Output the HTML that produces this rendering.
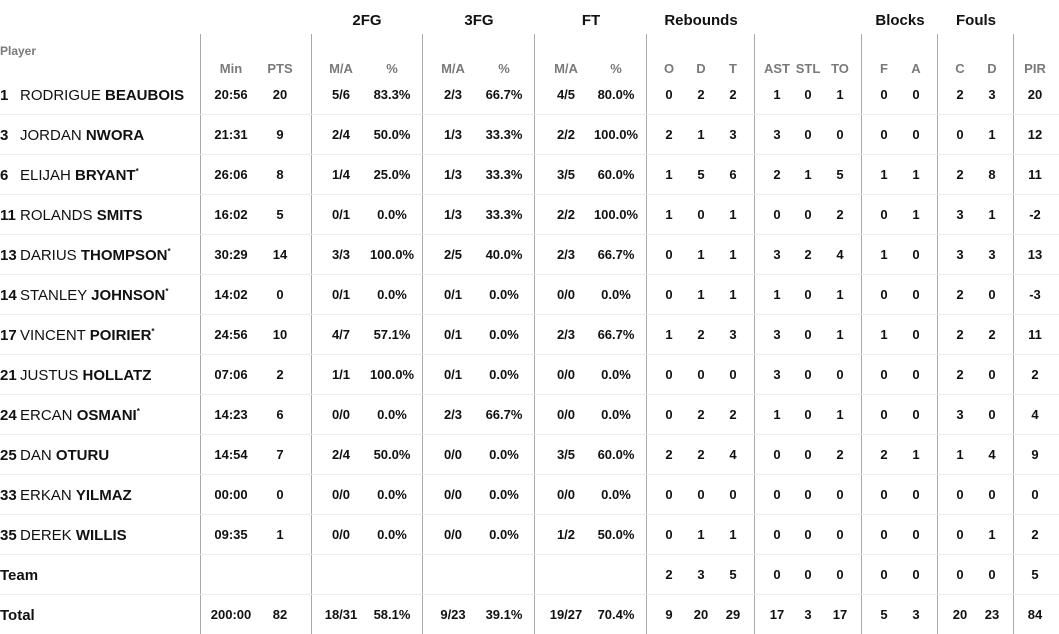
<!DOCTYPE html>
<html><head><meta charset="utf-8"><style>
body{margin:0;width:1059px;height:634px;background:#fff;overflow:hidden;position:relative;font-family:"Liberation Sans",sans-serif;color:#111}
.v{position:absolute;top:34px;bottom:0;width:1px;background:#a8a8a8}
.h{position:absolute;left:0;right:0;height:1px;background:#ececec}
.g{position:absolute;top:12px;font-weight:bold;font-size:15px;transform:translateX(-50%);white-space:nowrap}
.r{position:absolute;left:0;right:0;height:20px}
.r span{position:absolute;width:70px;margin-left:-35px;text-align:center;font-weight:bold;font-size:13px;line-height:20px;top:1px}
.hd span{color:#7a7a7a;font-size:13px}
.n{position:absolute;left:0;top:2px;height:20px;font-size:15px;line-height:20px;white-space:nowrap}
.n i{font-style:normal;display:inline-block;width:20px}
.n b sup{font-size:8px;line-height:0;vertical-align:0;position:relative;top:-6px}
</style></head><body>
<div class="v" style="left:200px"></div><div class="v" style="left:311px"></div><div class="v" style="left:422px"></div><div class="v" style="left:534px"></div><div class="v" style="left:646px"></div><div class="v" style="left:754px"></div><div class="v" style="left:861px"></div><div class="v" style="left:937px"></div><div class="v" style="left:1013px"></div>
<div class="h" style="top:114px"></div><div class="h" style="top:154px"></div><div class="h" style="top:194px"></div><div class="h" style="top:234px"></div><div class="h" style="top:274px"></div><div class="h" style="top:314px"></div><div class="h" style="top:354px"></div><div class="h" style="top:394px"></div><div class="h" style="top:434px"></div><div class="h" style="top:474px"></div><div class="h" style="top:514px"></div><div class="h" style="top:554px"></div><div class="h" style="top:594px"></div>
<div class="g" style="left:367px">2FG</div><div class="g" style="left:479px">3FG</div><div class="g" style="left:591px">FT</div><div class="g" style="left:701px">Rebounds</div><div class="g" style="left:900px">Blocks</div><div class="g" style="left:976px">Fouls</div>
<div style="position:absolute;left:0;top:44px;font-size:12px;font-weight:bold;color:#7a7a7a">Player</div>
<div class="r hd" style="top:58px"><span style="left:231px">Min</span><span style="left:280px">PTS</span><span style="left:341px">M/A</span><span style="left:392px">%</span><span style="left:453px">M/A</span><span style="left:504px">%</span><span style="left:566px">M/A</span><span style="left:616px">%</span><span style="left:669px">O</span><span style="left:701px">D</span><span style="left:733px">T</span><span style="left:777px">AST</span><span style="left:808px">STL</span><span style="left:840px">TO</span><span style="left:884px">F</span><span style="left:916px">A</span><span style="left:960px">C</span><span style="left:992px">D</span><span style="left:1035px">PIR</span><span style="left:1072px">-</span></div>

<div class="r" style="top:84px"><div class="n"><i><b>1</b></i>RODRIGUE <b>BEAUBOIS</b></div><span style="left:231px">20:56</span><span style="left:280px">20</span><span style="left:341px">5/6</span><span style="left:392px">83.3%</span><span style="left:453px">2/3</span><span style="left:504px">66.7%</span><span style="left:566px">4/5</span><span style="left:616px">80.0%</span><span style="left:669px">0</span><span style="left:701px">2</span><span style="left:733px">2</span><span style="left:777px">1</span><span style="left:808px">0</span><span style="left:840px">1</span><span style="left:884px">0</span><span style="left:916px">0</span><span style="left:960px">2</span><span style="left:992px">3</span><span style="left:1035px">20</span></div>
<div class="r" style="top:124px"><div class="n"><i><b>3</b></i>JORDAN <b>NWORA</b></div><span style="left:231px">21:31</span><span style="left:280px">9</span><span style="left:341px">2/4</span><span style="left:392px">50.0%</span><span style="left:453px">1/3</span><span style="left:504px">33.3%</span><span style="left:566px">2/2</span><span style="left:616px">100.0%</span><span style="left:669px">2</span><span style="left:701px">1</span><span style="left:733px">3</span><span style="left:777px">3</span><span style="left:808px">0</span><span style="left:840px">0</span><span style="left:884px">0</span><span style="left:916px">0</span><span style="left:960px">0</span><span style="left:992px">1</span><span style="left:1035px">12</span></div>
<div class="r" style="top:164px"><div class="n"><i><b>6</b></i>ELIJAH <b>BRYANT<sup>*</sup></b></div><span style="left:231px">26:06</span><span style="left:280px">8</span><span style="left:341px">1/4</span><span style="left:392px">25.0%</span><span style="left:453px">1/3</span><span style="left:504px">33.3%</span><span style="left:566px">3/5</span><span style="left:616px">60.0%</span><span style="left:669px">1</span><span style="left:701px">5</span><span style="left:733px">6</span><span style="left:777px">2</span><span style="left:808px">1</span><span style="left:840px">5</span><span style="left:884px">1</span><span style="left:916px">1</span><span style="left:960px">2</span><span style="left:992px">8</span><span style="left:1035px">11</span></div>
<div class="r" style="top:204px"><div class="n"><i><b>11</b></i>ROLANDS <b>SMITS</b></div><span style="left:231px">16:02</span><span style="left:280px">5</span><span style="left:341px">0/1</span><span style="left:392px">0.0%</span><span style="left:453px">1/3</span><span style="left:504px">33.3%</span><span style="left:566px">2/2</span><span style="left:616px">100.0%</span><span style="left:669px">1</span><span style="left:701px">0</span><span style="left:733px">1</span><span style="left:777px">0</span><span style="left:808px">0</span><span style="left:840px">2</span><span style="left:884px">0</span><span style="left:916px">1</span><span style="left:960px">3</span><span style="left:992px">1</span><span style="left:1035px">-2</span></div>
<div class="r" style="top:244px"><div class="n"><i><b>13</b></i>DARIUS <b>THOMPSON<sup>*</sup></b></div><span style="left:231px">30:29</span><span style="left:280px">14</span><span style="left:341px">3/3</span><span style="left:392px">100.0%</span><span style="left:453px">2/5</span><span style="left:504px">40.0%</span><span style="left:566px">2/3</span><span style="left:616px">66.7%</span><span style="left:669px">0</span><span style="left:701px">1</span><span style="left:733px">1</span><span style="left:777px">3</span><span style="left:808px">2</span><span style="left:840px">4</span><span style="left:884px">1</span><span style="left:916px">0</span><span style="left:960px">3</span><span style="left:992px">3</span><span style="left:1035px">13</span></div>
<div class="r" style="top:284px"><div class="n"><i><b>14</b></i>STANLEY <b>JOHNSON<sup>*</sup></b></div><span style="left:231px">14:02</span><span style="left:280px">0</span><span style="left:341px">0/1</span><span style="left:392px">0.0%</span><span style="left:453px">0/1</span><span style="left:504px">0.0%</span><span style="left:566px">0/0</span><span style="left:616px">0.0%</span><span style="left:669px">0</span><span style="left:701px">1</span><span style="left:733px">1</span><span style="left:777px">1</span><span style="left:808px">0</span><span style="left:840px">1</span><span style="left:884px">0</span><span style="left:916px">0</span><span style="left:960px">2</span><span style="left:992px">0</span><span style="left:1035px">-3</span></div>
<div class="r" style="top:324px"><div class="n"><i><b>17</b></i>VINCENT <b>POIRIER<sup>*</sup></b></div><span style="left:231px">24:56</span><span style="left:280px">10</span><span style="left:341px">4/7</span><span style="left:392px">57.1%</span><span style="left:453px">0/1</span><span style="left:504px">0.0%</span><span style="left:566px">2/3</span><span style="left:616px">66.7%</span><span style="left:669px">1</span><span style="left:701px">2</span><span style="left:733px">3</span><span style="left:777px">3</span><span style="left:808px">0</span><span style="left:840px">1</span><span style="left:884px">1</span><span style="left:916px">0</span><span style="left:960px">2</span><span style="left:992px">2</span><span style="left:1035px">11</span></div>
<div class="r" style="top:364px"><div class="n"><i><b>21</b></i>JUSTUS <b>HOLLATZ</b></div><span style="left:231px">07:06</span><span style="left:280px">2</span><span style="left:341px">1/1</span><span style="left:392px">100.0%</span><span style="left:453px">0/1</span><span style="left:504px">0.0%</span><span style="left:566px">0/0</span><span style="left:616px">0.0%</span><span style="left:669px">0</span><span style="left:701px">0</span><span style="left:733px">0</span><span style="left:777px">3</span><span style="left:808px">0</span><span style="left:840px">0</span><span style="left:884px">0</span><span style="left:916px">0</span><span style="left:960px">2</span><span style="left:992px">0</span><span style="left:1035px">2</span></div>
<div class="r" style="top:404px"><div class="n"><i><b>24</b></i>ERCAN <b>OSMANI<sup>*</sup></b></div><span style="left:231px">14:23</span><span style="left:280px">6</span><span style="left:341px">0/0</span><span style="left:392px">0.0%</span><span style="left:453px">2/3</span><span style="left:504px">66.7%</span><span style="left:566px">0/0</span><span style="left:616px">0.0%</span><span style="left:669px">0</span><span style="left:701px">2</span><span style="left:733px">2</span><span style="left:777px">1</span><span style="left:808px">0</span><span style="left:840px">1</span><span style="left:884px">0</span><span style="left:916px">0</span><span style="left:960px">3</span><span style="left:992px">0</span><span style="left:1035px">4</span></div>
<div class="r" style="top:444px"><div class="n"><i><b>25</b></i>DAN <b>OTURU</b></div><span style="left:231px">14:54</span><span style="left:280px">7</span><span style="left:341px">2/4</span><span style="left:392px">50.0%</span><span style="left:453px">0/0</span><span style="left:504px">0.0%</span><span style="left:566px">3/5</span><span style="left:616px">60.0%</span><span style="left:669px">2</span><span style="left:701px">2</span><span style="left:733px">4</span><span style="left:777px">0</span><span style="left:808px">0</span><span style="left:840px">2</span><span style="left:884px">2</span><span style="left:916px">1</span><span style="left:960px">1</span><span style="left:992px">4</span><span style="left:1035px">9</span></div>
<div class="r" style="top:484px"><div class="n"><i><b>33</b></i>ERKAN <b>YILMAZ</b></div><span style="left:231px">00:00</span><span style="left:280px">0</span><span style="left:341px">0/0</span><span style="left:392px">0.0%</span><span style="left:453px">0/0</span><span style="left:504px">0.0%</span><span style="left:566px">0/0</span><span style="left:616px">0.0%</span><span style="left:669px">0</span><span style="left:701px">0</span><span style="left:733px">0</span><span style="left:777px">0</span><span style="left:808px">0</span><span style="left:840px">0</span><span style="left:884px">0</span><span style="left:916px">0</span><span style="left:960px">0</span><span style="left:992px">0</span><span style="left:1035px">0</span></div>
<div class="r" style="top:524px"><div class="n"><i><b>35</b></i>DEREK <b>WILLIS</b></div><span style="left:231px">09:35</span><span style="left:280px">1</span><span style="left:341px">0/0</span><span style="left:392px">0.0%</span><span style="left:453px">0/0</span><span style="left:504px">0.0%</span><span style="left:566px">1/2</span><span style="left:616px">50.0%</span><span style="left:669px">0</span><span style="left:701px">1</span><span style="left:733px">1</span><span style="left:777px">0</span><span style="left:808px">0</span><span style="left:840px">0</span><span style="left:884px">0</span><span style="left:916px">0</span><span style="left:960px">0</span><span style="left:992px">1</span><span style="left:1035px">2</span></div>
<div class="r" style="top:564px"><div class="n"><b>Team</b></div><span style="left:669px">2</span><span style="left:701px">3</span><span style="left:733px">5</span><span style="left:777px">0</span><span style="left:808px">0</span><span style="left:840px">0</span><span style="left:884px">0</span><span style="left:916px">0</span><span style="left:960px">0</span><span style="left:992px">0</span><span style="left:1035px">5</span></div>
<div class="r" style="top:604px"><div class="n"><b>Total</b></div><span style="left:231px">200:00</span><span style="left:280px">82</span><span style="left:341px">18/31</span><span style="left:392px">58.1%</span><span style="left:453px">9/23</span><span style="left:504px">39.1%</span><span style="left:566px">19/27</span><span style="left:616px">70.4%</span><span style="left:669px">9</span><span style="left:701px">20</span><span style="left:733px">29</span><span style="left:777px">17</span><span style="left:808px">3</span><span style="left:840px">17</span><span style="left:884px">5</span><span style="left:916px">3</span><span style="left:960px">20</span><span style="left:992px">23</span><span style="left:1035px">84</span></div>
</body></html>
